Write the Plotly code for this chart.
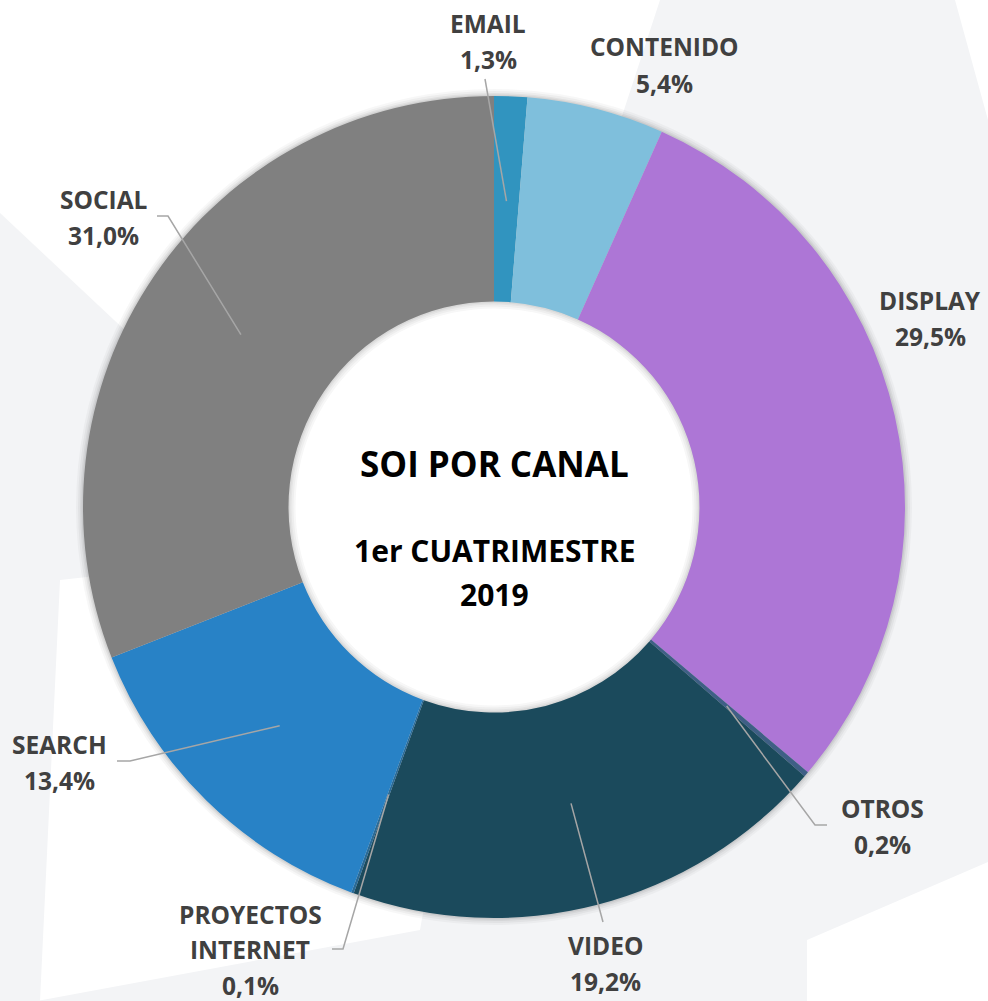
import math
import plotly.graph_objects as go

# ---------------- data ----------------
categories = ["EMAIL", "CONTENIDO", "DISPLAY", "OTROS", "VIDEO",
              "PROYECTOS INTERNET", "SEARCH", "SOCIAL"]
shares = [1.3, 5.4, 29.5, 0.2, 19.2, 0.1, 13.4, 31.0]
colors = ["#3194bf", "#7fbfdc", "#ad76d6", "#3f5f86", "#1b4a5c",
          "#2a6a96", "#2882c6", "#808080"]
label_lines = [["EMAIL"], ["CONTENIDO"], ["DISPLAY"], ["OTROS"], ["VIDEO"],
               ["PROYECTOS", "INTERNET"], ["SEARCH"], ["SOCIAL"]]
title_lines = ["SOI POR CANAL", "1er CUATRIMESTRE", "2019"]

# ---------------- layout constants (pixels) ----------------
W, H = 988, 1001
CX, CY, R = 494, 507, 411
HOLE = 0.5

label_pos = {
    "EMAIL": (488, 23), "CONTENIDO": (664, 47), "DISPLAY": (930, 300),
    "OTROS": (882, 808), "VIDEO": (605, 945), "PROYECTOS INTERNET": (250, 914),
    "SEARCH": (59, 744), "SOCIAL": (103, 199),
}
line_spacing = {"PROYECTOS INTERNET": 35.5}
leader_pts = {
    "EMAIL": [(485, 79)],
    "OTROS": [(815, 825), (827, 825)],
    "VIDEO": [(603, 922)],
    "PROYECTOS INTERNET": [(343, 949), (332, 949)],
    "SEARCH": [(130, 761), (117, 761)],
    "SOCIAL": [(168, 216), (157, 216)],
}
LINE_SP = 36.5


def px(x, y):
    return x / W, 1 - y / H


fig = go.Figure()
fig.add_trace(go.Pie(
    labels=categories, values=shares, marker=dict(colors=colors, line=dict(width=0)),
    sort=False, direction="clockwise", rotation=0, hole=HOLE,
    textinfo="none", hoverinfo="label+percent", showlegend=False,
    domain=dict(x=[(CX - R) / W, (CX + R) / W],
                y=[(H - CY - R) / H, (H - CY + R) / H]),
))

shapes = []
bg_polys = [
    [(660, 0), (955, 0), (988, 120), (988, 862), (807, 940), (807, 1001),
     (37, 1001), (420, 930), (494, 507)],
    [(0, 213), (130, 335), (150, 570), (60, 580), (40, 1001), (0, 1001)],
]
for poly in bg_polys:
    path = "M " + " L ".join(f"{px(x, y)[0]:.5f},{px(x, y)[1]:.5f}" for x, y in poly) + " Z"
    shapes.append(dict(type="path", path=path, xref="paper", yref="paper",
                       fillcolor="#f3f4f6", line=dict(width=0), layer="below"))


def circle(r, fill):
    x0, y0 = px(CX - r, CY + r)
    x1, y1 = px(CX + r, CY - r)
    return dict(type="circle", xref="paper", yref="paper", x0=x0, y0=y0, x1=x1, y1=y1,
                fillcolor=fill, line=dict(width=0), layer="below")


for dr, a in [(7, 0.03), (5, 0.04), (3, 0.05), (1.5, 0.06)]:
    shapes.append(circle(R + dr, f"rgba(0,0,0,{a})"))
r_in = R * HOLE
shapes.append(circle(r_in, "#d9d9d9"))
for dr, c in [(1.5, "#e4e4e4"), (3, "#eeeeee"), (5, "#f7f7f7"), (7, "#ffffff")]:
    shapes.append(circle(r_in - dr, c))

total = sum(shares)
cum = 0.0
annotations = []
for cat, v, lines in zip(categories, shares, label_lines):
    mid = (cum + v / 2) / total * 2 * math.pi
    cum += v
    if cat in leader_pts:
        r0 = 0.745 * R
        sx, sy = CX + r0 * math.sin(mid), CY - r0 * math.cos(mid)
        pts = [(sx, sy)] + leader_pts[cat]
        path = "M " + " L ".join(f"{px(x, y)[0]:.5f},{px(x, y)[1]:.5f}" for x, y in pts)
        shapes.append(dict(type="path", path=path, xref="paper", yref="paper",
                           line=dict(color="#a6a6a6", width=1.5), layer="above"))
    lx, ly = label_pos[cat]
    sp = line_spacing.get(cat, LINE_SP)
    pct = f"{v:.1f}".replace(".", ",") + "%"
    for i, t in enumerate(lines + [pct]):
        x, y = px(lx, ly + i * sp)
        annotations.append(dict(text=t, x=x, y=y, xref="paper", yref="paper",
                                showarrow=False, xanchor="center", yanchor="middle",
                                font=dict(family="Open Sans", size=24.5, color="#404040",
                                          weight=700)))

for t, yy, sz in zip(title_lines, [463, 550, 594], [35, 30, 30]):
    x, y = px(CX, yy)
    annotations.append(dict(text=t, x=x, y=y, xref="paper", yref="paper",
                            showarrow=False, xanchor="center", yanchor="middle",
                            font=dict(family="Open Sans", size=sz, color="#000000",
                                      weight=700)))

fig.update_layout(
    width=W, height=H, margin=dict(l=0, r=0, t=0, b=0),
    paper_bgcolor="#ffffff", plot_bgcolor="#ffffff",
    shapes=shapes, annotations=annotations,
)
fig.write_html("out.html", config={"displayModeBar": False},
               post_script="document.body.style.margin='0';document.body.style.overflow='hidden';")
